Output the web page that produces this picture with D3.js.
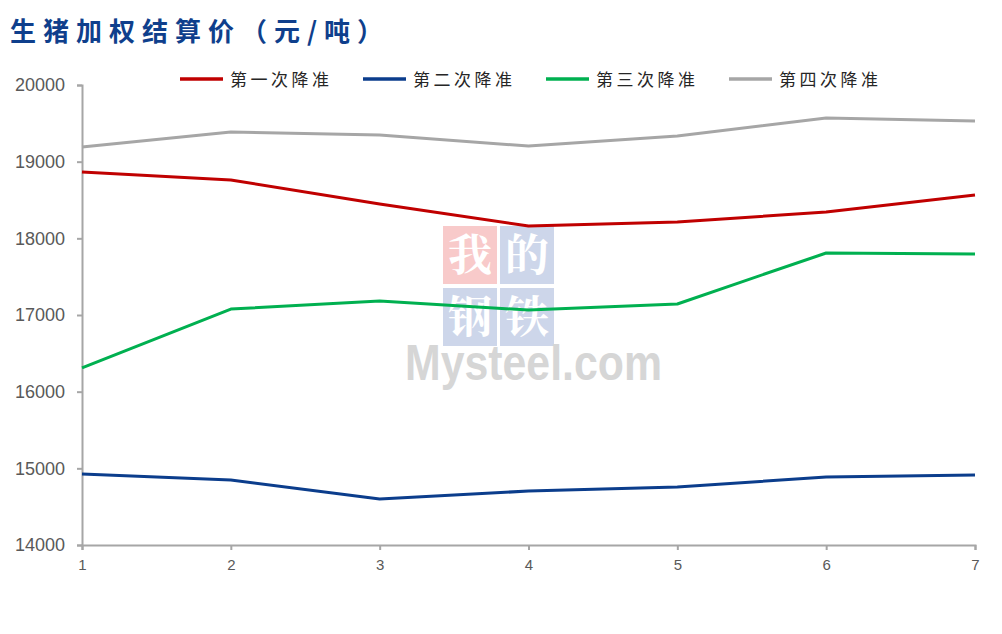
<!DOCTYPE html>
<html><head><meta charset="utf-8">
<script src="https://cdn.jsdelivr.net/npm/d3@7/dist/d3.min.js"></script>
<style>body{margin:0;background:#fff;}svg{display:block;}</style>
</head><body>
<svg id="c" width="1002" height="634"></svg>
<script>
const categories = [1,2,3,4,5,6,7];
const seriesNames = ["第一次降准","第二次降准","第三次降准","第四次降准"];
const s1 = [18865,18761,18448,18161,18213,18343,18565];
const s2 = [14926,14848,14600,14704,14757,14887,14913];
const s3 = [16309,17078,17183,17065,17144,17809,17796];
const s4 = [19191,19387,19348,19204,19335,19570,19530];
const yTicks = [14000,15000,16000,17000,18000,19000,20000];
const colors = ["#c00000","#0b3d8c","#00b050","#a6a6a6"];
const title = "生猪加权结算价（元/吨）";

const svg = d3.select("#c");
const x = d3.scaleLinear().domain([1,7]).range([82,975]);
const y = d3.scaleLinear().domain([14000,20000]).range([545,85]);

// title
svg.append("text").attr("x",10).attr("y",41).text(title)
  .attr("font-family","'Noto Sans CJK SC'").attr("font-weight","bold")
  .attr("font-size",26).attr("letter-spacing",7).attr("fill","#0f3f8c");

// watermark
const wm = svg.append("g");
const boxes = [["我",443,226,"#f8caca"],["的",500,226,"#cdd6ea"],["钢",443,288,"#cdd6ea"],["铁",500,288,"#cdd6ea"]];
boxes.forEach(b=>{
  wm.append("rect").attr("x",b[1]).attr("y",b[2]).attr("width",54).attr("height",58).attr("fill",b[3]);
  wm.append("text").attr("x",b[1]+27).attr("y",b[2]+45).attr("text-anchor","middle")
    .attr("font-family","'Noto Serif CJK SC','Noto Sans CJK SC'").attr("font-weight","bold")
    .attr("font-size",44).attr("fill","#fff").text(b[0]);
});
wm.append("text").attr("x",405).attr("y",380).text("Mysteel.com")
  .attr("font-family","'Liberation Sans', Arial").attr("font-weight","bold").attr("font-size",50).attr("fill","#d6d6d6")
  .attr("textLength",257).attr("lengthAdjust","spacingAndGlyphs");

// axes
const axisColor = "#a6a6a6";
const yAxis = svg.append("g").attr("transform","translate(82,0)")
  .call(d3.axisLeft(y).tickValues(yTicks).tickSize(5).tickPadding(12).tickFormat(d3.format("d")));
const xAxis = svg.append("g").attr("transform","translate(0,545)")
  .call(d3.axisBottom(x).tickValues(categories).tickSize(5).tickPadding(9).tickFormat(d3.format("d")));
[yAxis,xAxis].forEach(a=>{
  a.select(".domain").attr("stroke",axisColor).attr("stroke-width",2);
  a.selectAll(".tick line").attr("stroke",axisColor).attr("stroke-width",2);
});
yAxis.selectAll("text").attr("font-family","'Liberation Sans', Arial").attr("font-size",18).attr("fill","#595959");
xAxis.selectAll("text").attr("font-family","'Liberation Sans', Arial").attr("font-size",15).attr("fill","#595959");

// lines
const all = [s1,s2,s3,s4];
const line = d3.line().x((d,i)=>x(categories[i])).y(d=>y(d));
all.forEach((s,k)=>{
  svg.append("path").datum(s).attr("d",line).attr("fill","none")
    .attr("stroke",colors[k]).attr("stroke-width",3).attr("stroke-linejoin","round");
});

// legend
seriesNames.forEach((n,k)=>{
  const lx = 180 + k*183;
  svg.append("line").attr("x1",lx).attr("x2",lx+43).attr("y1",79).attr("y2",79)
    .attr("stroke",colors[k]).attr("stroke-width",3.5);
  svg.append("text").attr("x",lx+50).attr("y",86).text(n)
    .attr("font-family","'Noto Sans CJK SC'").attr("font-size",17).attr("letter-spacing",3.5).attr("fill","#262626");
});
</script>
</body></html>
